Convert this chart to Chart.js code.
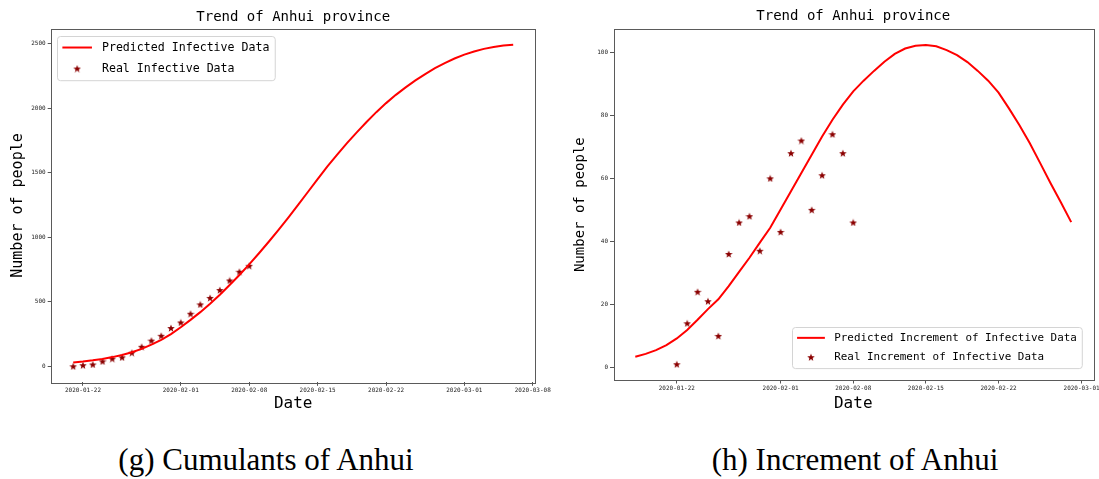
<!DOCTYPE html>
<html>
<head>
<meta charset="utf-8">
<title>Trend of Anhui province</title>
<script src="https://cdn.jsdelivr.net/npm/chart.js@4.4.1/dist/chart.umd.min.js"></script>
<style>
  html, body { margin: 0; padding: 0; background: #fff; overflow: hidden; }
  body { width: 1099px; height: 479px; position: relative; }
  .box { position: absolute; top: 0; }
  #leftBox { left: 0; }
  #rightBox { left: 550px; }
  .caption {
    position: absolute; top: 445px; width: 320px;
    font-family: 'Liberation Serif', 'Times New Roman', serif;
    font-size: 31px; line-height: 30px; text-align: center; color: #000;
    white-space: nowrap;
  }
</style>
</head>
<body>
<div class="box" id="leftBox"><canvas id="cumChart" width="560" height="420"></canvas></div>
<div class="box" id="rightBox"><canvas id="incChart" width="570" height="420"></canvas></div>
<div class="caption" style="left:106px">(g) Cumulants of Anhui</div>
<div class="caption" style="left:695px">(h) Increment of Anhui</div>

<script>
// ---- data ----
// (g) cumulative
const cumRealStart = '2020-01-21';
const cumReal = [1, 9, 15, 39, 60, 70, 106, 152, 200, 237, 297, 340, 408, 480, 530, 591, 665, 733, 779];
const cumPredStart = '2020-01-21';
const cumPred = [31, 38, 47, 58, 72, 89, 110, 136, 168, 206, 250, 303, 360, 420, 485, 555, 630, 708, 790,
  876, 965, 1057, 1152, 1250, 1350, 1450, 1548, 1640, 1728, 1812, 1892, 1968, 2038, 2102, 2160,
  2214, 2263, 2308, 2348, 2383, 2413, 2438, 2458, 2473, 2484, 2490];
const cumTicks = ['2020-01-22', '2020-02-01', '2020-02-08', '2020-02-15', '2020-02-22', '2020-03-01', '2020-03-08'];
const cumYTicks = [0, 500, 1000, 1500, 2000, 2500];

// (h) increment
const incRealStart = '2020-01-22';
const incReal = [1, 14, 24, 21, 10, 36, 46, 48, 37, 60, 43, 68, 72, 50, 61, 74, 68, 46];
const incPredStart = '2020-01-18';
const incPred = [3.4, 4.3, 5.5, 7.1, 9.2, 11.9, 15.1, 18.5, 21.6, 25.8, 30.3, 34.8, 39.6, 44.3, 50.1,
  55.9, 61.7, 67.5, 73.3, 78.6, 83.4, 87.6, 91.0, 94.1, 97.0, 99.5, 101.2, 102.1, 102.3, 101.9,
  100.7, 99.1, 96.9, 94.1, 91.0, 87.2, 82.2, 76.9, 71.2, 64.9, 58.5, 52.4, 46.1];
const incTicks = ['2020-01-22', '2020-02-01', '2020-02-08', '2020-02-15', '2020-02-22', '2020-03-01'];
const incYTicks = [0, 20, 40, 60, 80, 100];

const MONO = '"DejaVu Sans Mono", "Liberation Mono", monospace';
const RED = '#ff0000';
const DARKRED = '#8b0000';

// days counted from 2020-01-22
function dayOf(s) {
  return Math.round((Date.parse(s) - Date.parse('2020-01-22')) / 86400000);
}
function toPoints(start, values) {
  const d0 = dayOf(start);
  return values.map((v, i) => ({ x: d0 + i, y: v }));
}

// filled star like matplotlib's '*' marker
function makeStar(size, color) {
  const c = document.createElement('canvas');
  c.width = size; c.height = size;
  const g = c.getContext('2d');
  const cx = size / 2, cy = size / 2 + 0.4, R = size / 2, r = R * 0.42;
  g.beginPath();
  for (let i = 0; i < 10; i++) {
    const a = -Math.PI / 2 + i * Math.PI / 5;
    const rr = i % 2 ? r : R;
    g.lineTo(cx + rr * Math.cos(a), cy + rr * Math.sin(a));
  }
  g.closePath();
  g.fillStyle = color;
  g.fill();
  return c;
}
const star = makeStar(8, DARKRED);

// box round the plot area
const frame = {
  id: 'frame',
  afterDatasetsDraw(chart) {
    const a = chart.chartArea, ctx = chart.ctx;
    ctx.save();
    ctx.strokeStyle = '#5a5a5a';
    ctx.lineWidth = 1;
    ctx.strokeRect(Math.round(a.left) + 0.5, Math.round(a.top) + 0.5,
      Math.round(a.right - a.left), Math.round(a.bottom - a.top));
    ctx.restore();
  }
};

// matplotlib style legend sitting inside the axes
const insideLegend = {
  id: 'insideLegend',
  afterDraw(chart, args, opts) {
    const ctx = chart.ctx, area = chart.chartArea;
    const fs = opts.fontSize;
    const items = chart.data.datasets;
    ctx.save();
    ctx.font = fs + 'px ' + MONO;
    const textW = Math.max(...items.map(d => ctx.measureText(d.label).width));
    const padX = 0.42 * fs, lineLen = 2.55 * fs, gap = 0.86 * fs, padR = 0.5 * fs;
    const row = opts.row, padT = 0.95 * fs, padB = 1.05 * fs;
    const w = padX + lineLen + gap + textW + padR;
    const h = padT + row * (items.length - 1) + padB;
    let x, y;
    if (opts.loc === 'upper left') {
      x = area.left + opts.dx; y = area.top + opts.dy;
    } else {
      x = area.right - opts.dx - w; y = area.bottom - opts.dy - h;
    }
    x = Math.round(x) + 0.5; y = Math.round(y) + 0.5;
    ctx.fillStyle = 'rgba(255,255,255,0.85)';
    ctx.strokeStyle = '#d4d4d4';
    ctx.lineWidth = 1;
    ctx.beginPath();
    if (ctx.roundRect) ctx.roundRect(x, y, w, h, 3); else ctx.rect(x, y, w, h);
    ctx.fill();
    ctx.stroke();

    items.forEach((d, i) => {
      const cy = y + padT + i * row;
      if (d.showLine === false) {
        const sx = x + padX + lineLen / 2;
        ctx.drawImage(star, sx - star.width / 2, cy - star.height / 2);
      } else {
        ctx.strokeStyle = d.borderColor;
        ctx.lineWidth = 2;
        ctx.beginPath();
        ctx.moveTo(x + padX, cy);
        ctx.lineTo(x + padX + lineLen, cy);
        ctx.stroke();
      }
      ctx.fillStyle = '#000';
      ctx.textBaseline = 'middle';
      ctx.textAlign = 'left';
      ctx.fillText(d.label, x + padX + lineLen + gap, cy);
    });
    ctx.restore();
  }
};

function buildChart(id, cfg) {
  return new Chart(document.getElementById(id), {
    type: 'line',
    data: {
      datasets: [
        {
          label: cfg.predLabel,
          data: cfg.pred,
          borderColor: RED,
          borderWidth: 2,
          pointRadius: 0,
          tension: 0,
          fill: false
        },
        {
          label: cfg.realLabel,
          data: cfg.real,
          showLine: false,
          pointStyle: star,
          pointRadius: 4,
          borderColor: DARKRED,
          backgroundColor: DARKRED
        }
      ]
    },
    options: {
      responsive: false,
      animation: false,
      events: [],
      layout: { padding: { left: 0, right: cfg.padRight, top: 0, bottom: 0 } },
      plugins: {
        legend: { display: false },
        tooltip: { enabled: false },
        title: {
          display: true,
          text: 'Trend of Anhui province',
          fullSize: false,
          color: '#000',
          font: { family: MONO, size: 14, weight: 'normal', lineHeight: 1.2 },
          padding: cfg.titlePad
        },
        insideLegend: cfg.legend
      },
      scales: {
        x: {
          type: 'linear',
          bounds: 'data',
          min: cfg.xMin,
          max: cfg.xMax,
          afterBuildTicks: s => { s.ticks = cfg.xTicks.map(t => ({ value: dayOf(t) })); },
          afterFit: s => { s.height = cfg.xAxisH; },
          ticks: {
            autoSkip: false,
            maxRotation: 0,
            padding: 1,
            color: '#222',
            font: { family: MONO, size: 6 },
            callback: (v, i) => cfg.xTicks[i]
          },
          grid: { display: true, drawOnChartArea: false, drawTicks: true, tickLength: 3.5, color: '#555' },
          border: { display: false },
          title: {
            display: true,
            text: 'Date',
            color: '#000',
            font: { family: MONO, size: 16, lineHeight: 1.2 },
            padding: { top: 0, bottom: cfg.datePad }
          }
        },
        y: {
          type: 'linear',
          bounds: 'data',
          min: cfg.yMin,
          max: cfg.yMax,
          afterBuildTicks: s => { s.ticks = cfg.yTicks.map(v => ({ value: v })); },
          afterFit: s => { s.width = cfg.yAxisW; },
          ticks: {
            padding: 2,
            color: '#222',
            font: { family: MONO, size: 6 },
            callback: v => String(v)
          },
          grid: { display: true, drawOnChartArea: false, drawTicks: true, tickLength: 3.5, color: '#555' },
          border: { display: false },
          title: {
            display: true,
            text: 'Number of people',
            color: '#000',
            font: { family: MONO, size: cfg.yTitleSize, lineHeight: 1.2 },
            padding: { top: cfg.yTitlePad, bottom: 0 }
          }
        }
      }
    },
    plugins: [frame, insideLegend]
  });
}

// (g) Cumulants of Anhui
buildChart('cumChart', {
  predLabel: 'Predicted Infective Data',
  realLabel: 'Real Infective Data',
  pred: toPoints(cumPredStart, cumPred),
  real: toPoints(cumRealStart, cumReal),
  xTicks: cumTicks,
  yTicks: cumYTicks,
  xMin: -3.25, xMax: 46.25,
  yMin: -123, yMax: 2614,
  padRight: 560 - 535.2,
  yAxisW: 51.2,
  xAxisH: 420 - 382.3,
  titlePad: { top: 8.9, bottom: 3 },
  datePad: 6.1,
  yTitleSize: 15,
  yTitlePad: 9.3,
  legend: { loc: 'upper left', dx: 6, dy: 7, fontSize: 11.6, row: 21 }
});

// (h) Increment of Anhui
buildChart('incChart', {
  predLabel: 'Predicted Increment of Infective Data',
  realLabel: 'Real Increment of Infective Data',
  pred: toPoints(incPredStart, incPred),
  real: toPoints(incRealStart, incReal),
  xTicks: incTicks,
  yTicks: incYTicks,
  xMin: -6.1, xMax: 40.1,
  yMin: -4, yMax: 107.3,
  padRight: 570 - 543,
  yAxisW: 63.5,
  xAxisH: 420 - 380,
  titlePad: { top: 8.3, bottom: 4.2 },
  datePad: 6.5,
  yTitleSize: 14,
  yTitlePad: 22.4,
  legend: { loc: 'lower right', dx: 11.6, dy: 12.3, fontSize: 10.9, row: 19.3 }
});
</script>
</body>
</html>
